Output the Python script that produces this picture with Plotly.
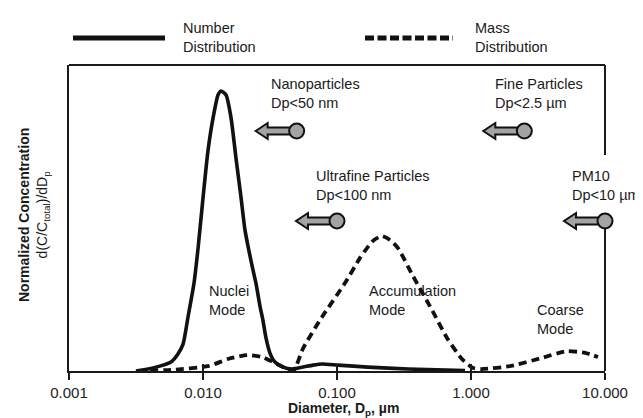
import math
import plotly.graph_objects as go

# ---- data (diameter in µm, normalized concentration) ----
num_d = [0.00316, 0.00424, 0.00577, 0.0065, 0.0071, 0.00773, 0.00857, 0.00919, 0.0100,
         0.01089, 0.01189, 0.01294, 0.01361, 0.01486, 0.01619, 0.01762, 0.01924, 0.02056,
         0.02203, 0.0236, 0.02489, 0.02661, 0.02806, 0.02951, 0.0316, 0.0344, 0.0395,
         0.0461, 0.0557, 0.0662, 0.0773, 0.1016, 0.170, 0.339, 0.902]
num_v = [0, 0.011, 0.032, 0.061, 0.096, 0.193, 0.314, 0.439, 0.618,
         0.786, 0.904, 0.986, 1.0, 0.986, 0.904, 0.761, 0.618, 0.504,
         0.429, 0.361, 0.311, 0.232, 0.179, 0.118, 0.064, 0.032, 0.014,
         0.007, 0.014, 0.021, 0.025, 0.021, 0.014, 0.007, 0.002]

mass_d = [0.00322, 0.00577, 0.01109, 0.01537, 0.02131, 0.02756, 0.03566, 0.04308, 0.04775,
          0.0557, 0.0773, 0.1147, 0.1485, 0.1674, 0.1889, 0.2168, 0.2486, 0.2852,
          0.3691, 0.5117, 0.6622, 0.8566, 1.035, 1.187, 1.989, 3.330, 5.204, 7.215, 8.867]
mass_v = [0, 0.004, 0.018, 0.043, 0.057, 0.05, 0.025, 0.007, 0.004,
          0.080, 0.193, 0.314, 0.404, 0.439, 0.468, 0.482, 0.468, 0.439,
          0.339, 0.218, 0.118, 0.043, 0.011, 0.007, 0.018, 0.046, 0.071, 0.064, 0.05]

tick_vals = [0.001, 0.01, 0.1, 1, 10]
tick_text = ["0.001", "0.010", "0.100", "1.000", "10.000"]

# size-class cut points (µm) and labels
cut_d = [0.05, 2.5, 0.1, 10]
cut_labels = ["Nanoparticles<br>Dp&lt;50 nm", "Fine Particles<br>Dp&lt;2.5 µm",
              "Ultrafine Particles<br>Dp&lt;100 nm", "PM10<br>Dp&lt;10 µm"]

FONT = "Liberation Sans, Arial, sans-serif"
INK = "#111111"
W, H = 643, 418
L, R, T, B = 61, 46, 57, 55
PW, PH = W - L - R, H - T - B


def px(xp):
    return (xp - L) / PW


def py(yp):
    return (H - B - yp) / PH


def dpaper(d):
    return (math.log10(d) + 3) / 4


fig = go.Figure()
fig.add_trace(go.Scatter(x=num_d, y=num_v, mode="lines", line=dict(color=INK, width=3.6, shape="spline", smoothing=0.6),
                         showlegend=False, hoverinfo="skip"))
fig.add_trace(go.Scatter(x=mass_d, y=mass_v, mode="lines",
                         line=dict(color=INK, width=3.8, dash="8px,5px", shape="spline", smoothing=0.6),
                         showlegend=False, hoverinfo="skip"))
fig.add_trace(go.Scatter(x=[], y=[], xaxis="x2", showlegend=False, hoverinfo="skip"))

shapes = []
lw = 2
lc = "#1a1a1a"
# top border and split right border
shapes.append(dict(type="line", xref="paper", yref="paper", x0=0, x1=1, y0=1, y1=1, line=dict(color=lc, width=lw)))
shapes.append(dict(type="line", xref="paper", yref="paper", x0=1, x1=1, y0=1, y1=py(147), line=dict(color=lc, width=lw)))
shapes.append(dict(type="line", xref="paper", yref="paper", x0=1, x1=1, y0=py(213), y1=0, line=dict(color=lc, width=lw)))

# legend samples
shapes.append(dict(type="line", xref="paper", yref="paper", x0=px(65), x1=px(157), y0=py(30), y1=py(30),
                   line=dict(color=INK, width=5)))
shapes.append(dict(type="line", xref="paper", yref="paper", x0=px(357), x1=px(445), y0=py(30), y1=py(30),
                   line=dict(color=INK, width=5, dash="9px,3.5px")))

# arrows with circles
arrow_y = [123, 123, 213, 213]
arrow_path = "M -6 3.5 L -29 3.5 L -29 8 L -41 0 L -29 -8 L -29 -3.5 L -6 -3.5 Z"
for d, ay in zip(cut_d, arrow_y):
    xa, ya = dpaper(d), py(ay)
    shapes.append(dict(type="path", xref="paper", yref="paper", xsizemode="pixel", ysizemode="pixel",
                       xanchor=xa, yanchor=ya, path=arrow_path,
                       fillcolor="#a3a3a3", line=dict(color=INK, width=2)))
    shapes.append(dict(type="circle", xref="paper", yref="paper", xsizemode="pixel", ysizemode="pixel",
                       xanchor=xa, yanchor=ya, x0=-7.5, x1=7.5, y0=-7.5, y1=7.5,
                       fillcolor="#a3a3a3", line=dict(color=INK, width=2)))

annos = []
tf = dict(family=FONT, size=14.5, color="#1a1a1a")


def txt(text, xp, yp, **kw):
    a = dict(text=text, xref="paper", yref="paper", x=px(xp), y=py(yp), xanchor="left", yanchor="middle",
             align="left", showarrow=False, font=tf)
    a.update(kw)
    annos.append(a)


txt("Number<br>Distribution", 173, 29.5)
txt("Mass<br>Distribution", 465, 29.5)
label_pos = [(261, 85.5), (485, 85.5), (306, 177.5), (562, 177.5)]
for lab, (xp, yp) in zip(cut_labels, label_pos):
    txt(lab, xp, yp)
txt("Nuclei<br>Mode", 199, 292)
txt("Accumulation<br>Mode", 359, 292)
txt("Coarse<br>Mode", 527, 311)

annos.append(dict(text="<b>Diameter, D<sub>p</sub>, µm</b>", xref="paper", yref="paper", x=px(335), y=py(401),
                  xanchor="center", yanchor="middle", showarrow=False, font=dict(family=FONT, size=14, color="#1a1a1a")))
annos.append(dict(text="<b>Normalized Concentration</b><br>d(C/C<sub>total</sub>)/dD<sub>p</sub>",
                  xref="paper", yref="paper", x=px(26), y=py(207), xanchor="center", yanchor="middle",
                  textangle=-90, showarrow=False, font=dict(family=FONT, size=14, color="#1a1a1a")))

fig.update_layout(
    width=W, height=H, margin=dict(l=L, r=R, t=T, b=B),
    paper_bgcolor="white", plot_bgcolor="white",
    shapes=shapes, annotations=annos, showlegend=False,
    xaxis=dict(type="log", range=[-3, 1], tickvals=tick_vals, ticktext=tick_text,
               ticks="outside", ticklen=7, tickwidth=2, tickcolor=lc,
               showline=True, linecolor=lc, linewidth=lw, showgrid=False, zeroline=False,
               tickfont=dict(family=FONT, size=15, color="#222222")),
    xaxis2=dict(type="log", range=[-3, 1], overlaying="x", anchor="y", side="bottom", tickvals=tick_vals,
                ticks="inside", ticklen=7, tickwidth=2, tickcolor=lc, showticklabels=False,
                showline=False, showgrid=False, zeroline=False),
    yaxis=dict(range=[0, 306 / 280], showline=True, linecolor=lc, linewidth=lw, showgrid=False,
               zeroline=False, showticklabels=False, ticks=""),
)

fig.write_html("out.html")
